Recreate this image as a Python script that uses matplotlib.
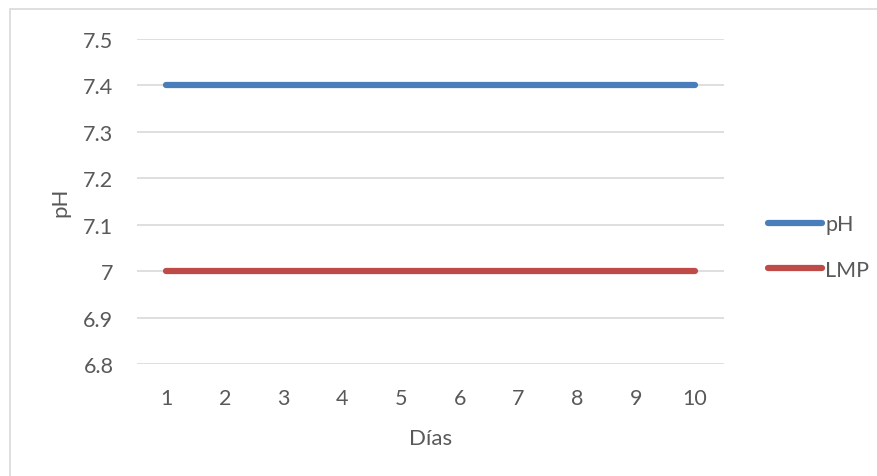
import matplotlib
matplotlib.use("Agg")
import matplotlib.pyplot as plt
from matplotlib.patches import Rectangle

# Data
dias = [1, 2, 3, 4, 5, 6, 7, 8, 9, 10]
ph_values = [7.4, 7.4, 7.4, 7.4, 7.4, 7.4, 7.4, 7.4, 7.4, 7.4]
lmp_values = [7.0, 7.0, 7.0, 7.0, 7.0, 7.0, 7.0, 7.0, 7.0, 7.0]
y_ticks = [6.8, 6.9, 7.0, 7.1, 7.2, 7.3, 7.4, 7.5]
y_tick_labels = ["6.8", "6.9", "7", "7.1", "7.2", "7.3", "7.4", "7.5"]

plt.rcParams['font.family'] = ['Lato', 'DejaVu Sans']

W, H = 878, 477
fig = plt.figure(figsize=(W / 100, H / 100), dpi=100)

# Outer chart frame
fig.patches.append(Rectangle((10 / W, -0.1), 1.2, (H - 10) / H + 0.1,
                             transform=fig.transFigure, fill=False,
                             edgecolor="#d9d9d9", linewidth=1.2))

ax = fig.add_axes([137 / W, 1 - 365 / H, (724 - 137) / W, (365 - 40) / H])

blue = "#4a7ebb"
red = "#be4b48"
ax.plot(dias, ph_values, color=blue, linewidth=4.5, solid_capstyle="round", label="pH", zorder=3)
ax.plot(dias, lmp_values, color=red, linewidth=4.5, solid_capstyle="round", label="LMP", zorder=3)

ax.set_xlim(0.5, 10.5)
ax.set_ylim(6.8, 7.5)
ax.set_yticks(y_ticks)
ax.set_yticklabels(y_tick_labels)
ax.set_xticks(dias)
ax.set_xticklabels([str(d) for d in dias])

ax.grid(axis="y", color="#d9d9d9", linewidth=1.2, zorder=0)
for s in ax.spines.values():
    s.set_visible(False)
ax.tick_params(axis="both", length=0, labelsize=15.5, colors="#595959")
ax.tick_params(axis="y", pad=17)
ax.tick_params(axis="x", pad=17)

ax.set_ylabel("pH", fontsize=16, color="#595959", labelpad=9)
ax.set_xlabel("Días", fontsize=16, color="#595959", labelpad=15)

leg = fig.legend(loc="center left", bbox_to_anchor=(749 / W, 1 - 248 / H),
                 frameon=False, fontsize=15.5, handlelength=2.5,
                 handletextpad=0.15, labelspacing=1.2, labelcolor="#595959")

fig.savefig("out.png", dpi=100)
